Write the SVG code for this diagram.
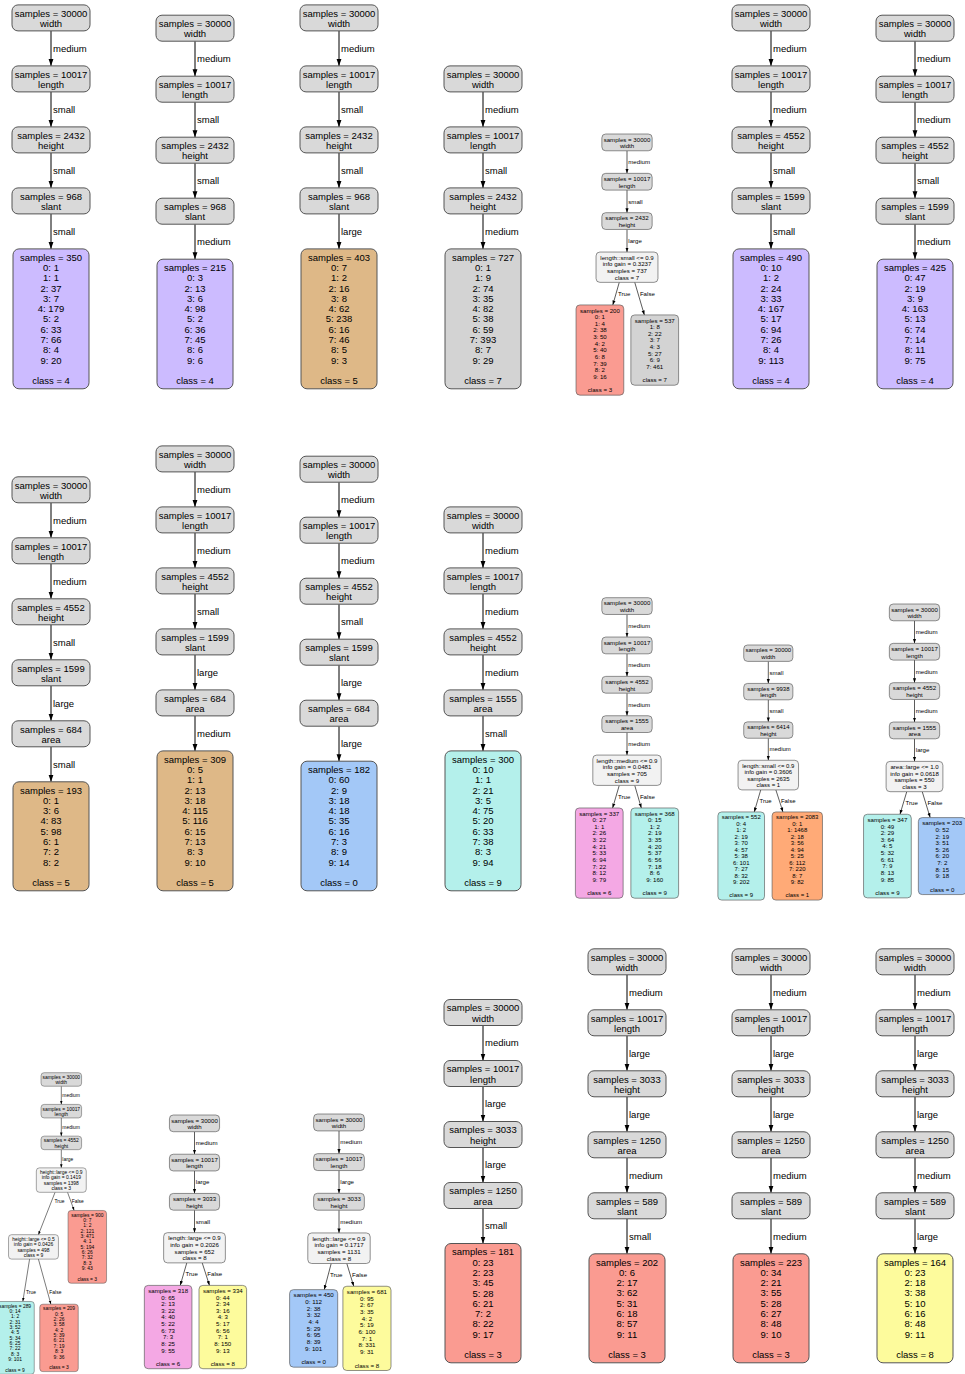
<svg xmlns="http://www.w3.org/2000/svg" width="965" height="1374" viewBox="0 0 965 1374">
<defs>
<style>
text{font-family:"Liberation Sans",Arial,Helvetica,sans-serif;font-size:9.5px;fill:#000}
.c{text-anchor:middle}
.el{text-anchor:start}
.n,.d,.k0,.k1,.k3,.k4,.k5,.k6,.k7,.k8,.k9{stroke:#555;stroke-width:1}
.n{fill:#d9d9d9}.d{fill:#f2f2f2}
.k0{fill:#a3c8f7}.k1{fill:#ffaa77}.k3{fill:#fa9b91}.k4{fill:#ccbbff}.k5{fill:#deb887}.k6{fill:#f4a8e4}.k7{fill:#d3d3d3}.k8{fill:#fdfb9c}.k9{fill:#b4f0eb}
.e{stroke:#000;stroke-width:1;fill:none;marker-end:url(#ah)}
</style>
<marker id="ah" viewBox="0 0 10 10" refX="10" refY="5" markerWidth="7" markerHeight="7" orient="auto" markerUnits="userSpaceOnUse"><path d="M0,1.5L10,5L0,8.5z" fill="#000"/></marker>
</defs>
<rect width="965" height="1374" fill="#fff"/>

<g id="connectors">
<g transform="translate(51,4.9)"><path class="e" d="M0,26V61"/><path class="e" d="M0,87V122"/><path class="e" d="M0,148V183"/><path class="e" d="M0,209V244"/><text class="el" x="2" y="46.9">medium</text><text class="el" x="2" y="107.9">small</text><text class="el" x="2" y="168.9">small</text><text class="el" x="2" y="229.9">small</text></g>
<g transform="translate(195,15.2)"><path class="e" d="M0,26V61"/><path class="e" d="M0,87V122"/><path class="e" d="M0,148V183"/><path class="e" d="M0,209V244"/><text class="el" x="2" y="46.9">medium</text><text class="el" x="2" y="107.9">small</text><text class="el" x="2" y="168.9">small</text><text class="el" x="2" y="229.9">medium</text></g>
<g transform="translate(339,4.9)"><path class="e" d="M0,26V61"/><path class="e" d="M0,87V122"/><path class="e" d="M0,148V183"/><path class="e" d="M0,209V244"/><text class="el" x="2" y="46.9">medium</text><text class="el" x="2" y="107.9">small</text><text class="el" x="2" y="168.9">small</text><text class="el" x="2" y="229.9">large</text></g>
<g transform="translate(483,65.9)"><path class="e" d="M0,26V61"/><path class="e" d="M0,87V122"/><path class="e" d="M0,148V183"/><text class="el" x="2" y="46.9">medium</text><text class="el" x="2" y="107.9">small</text><text class="el" x="2" y="168.9">medium</text></g>
<g transform="translate(627,134) scale(0.645)"><path class="e" d="M0,26V61"/><path class="e" d="M0,87V122"/><path class="e" d="M0,148V183"/><path class="e" d="M-12,230L-22,265"/><path class="e" d="M12,230L26.9,280.5"/><text class="el" x="2" y="46.9">medium</text><text class="el" x="2" y="107.9">small</text><text class="el" x="2" y="168.9">large</text><text class="el" x="-14" y="251">True</text><text class="el" x="20" y="251">False</text></g>
<g transform="translate(771,4.9)"><path class="e" d="M0,26V61"/><path class="e" d="M0,87V122"/><path class="e" d="M0,148V183"/><path class="e" d="M0,209V244"/><text class="el" x="2" y="46.9">medium</text><text class="el" x="2" y="107.9">medium</text><text class="el" x="2" y="168.9">small</text><text class="el" x="2" y="229.9">small</text></g>
<g transform="translate(915,15.2)"><path class="e" d="M0,26V61"/><path class="e" d="M0,87V122"/><path class="e" d="M0,148V183"/><path class="e" d="M0,209V244"/><text class="el" x="2" y="46.9">medium</text><text class="el" x="2" y="107.9">medium</text><text class="el" x="2" y="168.9">small</text><text class="el" x="2" y="229.9">medium</text></g>

<g transform="translate(51,476.8)"><path class="e" d="M0,26V61"/><path class="e" d="M0,87V122"/><path class="e" d="M0,148V183"/><path class="e" d="M0,209V244"/><path class="e" d="M0,270V305"/><text class="el" x="2" y="46.9">medium</text><text class="el" x="2" y="107.9">medium</text><text class="el" x="2" y="168.9">small</text><text class="el" x="2" y="229.9">large</text><text class="el" x="2" y="290.9">small</text></g>
<g transform="translate(195,445.9)"><path class="e" d="M0,26V61"/><path class="e" d="M0,87V122"/><path class="e" d="M0,148V183"/><path class="e" d="M0,209V244"/><path class="e" d="M0,270V305"/><text class="el" x="2" y="46.9">medium</text><text class="el" x="2" y="107.9">medium</text><text class="el" x="2" y="168.9">small</text><text class="el" x="2" y="229.9">large</text><text class="el" x="2" y="290.9">medium</text></g>
<g transform="translate(339,456.2)"><path class="e" d="M0,26V61"/><path class="e" d="M0,87V122"/><path class="e" d="M0,148V183"/><path class="e" d="M0,209V244"/><path class="e" d="M0,270V305"/><text class="el" x="2" y="46.9">medium</text><text class="el" x="2" y="107.9">medium</text><text class="el" x="2" y="168.9">small</text><text class="el" x="2" y="229.9">large</text><text class="el" x="2" y="290.9">large</text></g>
<g transform="translate(483,506.9)"><path class="e" d="M0,26V61"/><path class="e" d="M0,87V122"/><path class="e" d="M0,148V183"/><path class="e" d="M0,209V244"/><text class="el" x="2" y="46.9">medium</text><text class="el" x="2" y="107.9">medium</text><text class="el" x="2" y="168.9">medium</text><text class="el" x="2" y="229.9">small</text></g>
<g transform="translate(627,597.7) scale(0.645)"><path class="e" d="M0,26V61"/><path class="e" d="M0,87V122"/><path class="e" d="M0,148V183"/><path class="e" d="M0,209V244"/><path class="e" d="M-12,291L-22.3,326"/><path class="e" d="M12,291L22.2,326"/><text class="el" x="2" y="46.9">medium</text><text class="el" x="2" y="107.9">medium</text><text class="el" x="2" y="168.9">medium</text><text class="el" x="2" y="229.9">medium</text><text class="el" x="-14" y="312">True</text><text class="el" x="20" y="312">False</text></g>
<g transform="translate(768.3,645) scale(0.63)"><path class="e" d="M0,26V61"/><path class="e" d="M0,87V122"/><path class="e" d="M0,148V183"/><path class="e" d="M-12,230L-22.3,265"/><path class="e" d="M12,230L23.3,265"/><text class="el" x="2" y="46.9">small</text><text class="el" x="2" y="107.9">small</text><text class="el" x="2" y="168.9">medium</text><text class="el" x="-14" y="251">True</text><text class="el" x="20" y="251">False</text></g>
<g transform="translate(914.5,604) scale(0.645)"><path class="e" d="M0,26V61"/><path class="e" d="M0,87V122"/><path class="e" d="M0,148V183"/><path class="e" d="M0,209V244"/><path class="e" d="M-12,291L-22.5,326"/><path class="e" d="M12,291L24.3,331.2"/><text class="el" x="2" y="46.9">medium</text><text class="el" x="2" y="107.9">medium</text><text class="el" x="2" y="168.9">medium</text><text class="el" x="2" y="229.9">large</text><text class="el" x="-14" y="312">True</text><text class="el" x="20" y="312">False</text></g>

<g transform="translate(61.3,1072.7) scale(0.52)"><path class="e" d="M0,26V61"/><path class="e" d="M0,87V122"/><path class="e" d="M0,148V183"/><path class="e" d="M-12,230L-44,311.5"/><path class="e" d="M12,230L24.7,265"/><path class="e" d="M-61,358.5L-74,440"/><path class="e" d="M-44,358.5L-20,445.2"/><text class="el" x="2" y="46.9">medium</text><text class="el" x="2" y="107.9">medium</text><text class="el" x="2" y="168.9">large</text><text class="el" x="-13" y="251">True</text><text class="el" x="20" y="251">False</text><text class="el" x="-68" y="425">True</text><text class="el" x="-23" y="425">False</text></g>
<g transform="translate(194.5,1115) scale(0.643)"><path class="e" d="M0,26V61"/><path class="e" d="M0,87V122"/><path class="e" d="M0,148V183"/><path class="e" d="M-12,230L-22.2,265"/><path class="e" d="M12,230L23.3,265"/><text class="el" x="2" y="46.9">medium</text><text class="el" x="2" y="107.9">large</text><text class="el" x="2" y="168.9">small</text><text class="el" x="-14" y="251">True</text><text class="el" x="20" y="251">False</text></g>
<g transform="translate(339,1114) scale(0.65)"><path class="e" d="M0,26V61"/><path class="e" d="M0,87V122"/><path class="e" d="M0,148V183"/><path class="e" d="M-12,230L-22.7,270.2"/><path class="e" d="M12,230L22.7,265"/><text class="el" x="2" y="46.9">medium</text><text class="el" x="2" y="107.9">large</text><text class="el" x="2" y="168.9">medium</text><text class="el" x="-14" y="251">True</text><text class="el" x="20" y="251">False</text></g>
<g transform="translate(483,999.5)"><path class="e" d="M0,26V61"/><path class="e" d="M0,87V122"/><path class="e" d="M0,148V183"/><path class="e" d="M0,209V244"/><text class="el" x="2" y="46.9">medium</text><text class="el" x="2" y="107.9">large</text><text class="el" x="2" y="168.9">large</text><text class="el" x="2" y="229.9">small</text></g>
<g transform="translate(627,948.8)"><path class="e" d="M0,26V61"/><path class="e" d="M0,87V122"/><path class="e" d="M0,148V183"/><path class="e" d="M0,209V244"/><path class="e" d="M0,270V305"/><text class="el" x="2" y="46.9">medium</text><text class="el" x="2" y="107.9">large</text><text class="el" x="2" y="168.9">large</text><text class="el" x="2" y="229.9">medium</text><text class="el" x="2" y="290.9">small</text></g>
<g transform="translate(771,948.8)"><path class="e" d="M0,26V61"/><path class="e" d="M0,87V122"/><path class="e" d="M0,148V183"/><path class="e" d="M0,209V244"/><path class="e" d="M0,270V305"/><text class="el" x="2" y="46.9">medium</text><text class="el" x="2" y="107.9">large</text><text class="el" x="2" y="168.9">large</text><text class="el" x="2" y="229.9">medium</text><text class="el" x="2" y="290.9">medium</text></g>
<g transform="translate(915,948.8)"><path class="e" d="M0,26V61"/><path class="e" d="M0,87V122"/><path class="e" d="M0,148V183"/><path class="e" d="M0,209V244"/><path class="e" d="M0,270V305"/><text class="el" x="2" y="46.9">medium</text><text class="el" x="2" y="107.9">large</text><text class="el" x="2" y="168.9">large</text><text class="el" x="2" y="229.9">medium</text><text class="el" x="2" y="290.9">large</text></g>
</g>

<!-- Row 1 -->
<g id="tree-r1c1" transform="translate(51,4.9)">
<g id="r1c1-n0"><rect class="n" x="-39" y="0" width="78" height="26" rx="6"/><text class="c"><tspan x="0" y="11.8">samples = 30000</tspan><tspan x="0" y="22.1">width</tspan></text></g>
<g id="r1c1-n1"><rect class="n" x="-39" y="61" width="78" height="26" rx="6"/><text class="c"><tspan x="0" y="72.8">samples = 10017</tspan><tspan x="0" y="83.1">length</tspan></text></g>
<g id="r1c1-n2"><rect class="n" x="-39" y="122" width="78" height="26" rx="6"/><text class="c"><tspan x="0" y="133.8">samples = 2432</tspan><tspan x="0" y="144.1">height</tspan></text></g>
<g id="r1c1-n3"><rect class="n" x="-39" y="183" width="78" height="26" rx="6"/><text class="c"><tspan x="0" y="194.8">samples = 968</tspan><tspan x="0" y="205.1">slant</tspan></text></g>
<g id="r1c1-leaf"><rect class="k4" x="-38" y="244" width="76" height="139.9" rx="6"/><text class="c"><tspan x="0" y="255.8">samples = 350</tspan><tspan x="0" y="266.1">0: 1</tspan><tspan x="0" y="276.4">1: 1</tspan><tspan x="0" y="286.7">2: 37</tspan><tspan x="0" y="297">3: 7</tspan><tspan x="0" y="307.3">4: 179</tspan><tspan x="0" y="317.6">5: 2</tspan><tspan x="0" y="327.9">6: 33</tspan><tspan x="0" y="338.2">7: 66</tspan><tspan x="0" y="348.5">8: 4</tspan><tspan x="0" y="358.8">9: 20</tspan><tspan x="0" y="379.4">class = 4</tspan></text></g>
</g>
<g id="tree-r1c2" transform="translate(195,15.2)">
<g id="r1c2-n0"><rect class="n" x="-39" y="0" width="78" height="26" rx="6"/><text class="c"><tspan x="0" y="11.8">samples = 30000</tspan><tspan x="0" y="22.1">width</tspan></text></g>
<g id="r1c2-n1"><rect class="n" x="-39" y="61" width="78" height="26" rx="6"/><text class="c"><tspan x="0" y="72.8">samples = 10017</tspan><tspan x="0" y="83.1">length</tspan></text></g>
<g id="r1c2-n2"><rect class="n" x="-39" y="122" width="78" height="26" rx="6"/><text class="c"><tspan x="0" y="133.8">samples = 2432</tspan><tspan x="0" y="144.1">height</tspan></text></g>
<g id="r1c2-n3"><rect class="n" x="-39" y="183" width="78" height="26" rx="6"/><text class="c"><tspan x="0" y="194.8">samples = 968</tspan><tspan x="0" y="205.1">slant</tspan></text></g>
<g id="r1c2-leaf"><rect class="k4" x="-38" y="244" width="76" height="129.6" rx="6"/><text class="c"><tspan x="0" y="255.8">samples = 215</tspan><tspan x="0" y="266.1">0: 3</tspan><tspan x="0" y="276.4">2: 13</tspan><tspan x="0" y="286.7">3: 6</tspan><tspan x="0" y="297">4: 98</tspan><tspan x="0" y="307.3">5: 2</tspan><tspan x="0" y="317.6">6: 36</tspan><tspan x="0" y="327.9">7: 45</tspan><tspan x="0" y="338.2">8: 6</tspan><tspan x="0" y="348.5">9: 6</tspan><tspan x="0" y="369.1">class = 4</tspan></text></g>
</g>
<g id="tree-r1c3" transform="translate(339,4.9)">
<g id="r1c3-n0"><rect class="n" x="-39" y="0" width="78" height="26" rx="6"/><text class="c"><tspan x="0" y="11.8">samples = 30000</tspan><tspan x="0" y="22.1">width</tspan></text></g>
<g id="r1c3-n1"><rect class="n" x="-39" y="61" width="78" height="26" rx="6"/><text class="c"><tspan x="0" y="72.8">samples = 10017</tspan><tspan x="0" y="83.1">length</tspan></text></g>
<g id="r1c3-n2"><rect class="n" x="-39" y="122" width="78" height="26" rx="6"/><text class="c"><tspan x="0" y="133.8">samples = 2432</tspan><tspan x="0" y="144.1">height</tspan></text></g>
<g id="r1c3-n3"><rect class="n" x="-39" y="183" width="78" height="26" rx="6"/><text class="c"><tspan x="0" y="194.8">samples = 968</tspan><tspan x="0" y="205.1">slant</tspan></text></g>
<g id="r1c3-leaf"><rect class="k5" x="-38" y="244" width="76" height="139.9" rx="6"/><text class="c"><tspan x="0" y="255.8">samples = 403</tspan><tspan x="0" y="266.1">0: 7</tspan><tspan x="0" y="276.4">1: 2</tspan><tspan x="0" y="286.7">2: 16</tspan><tspan x="0" y="297">3: 8</tspan><tspan x="0" y="307.3">4: 62</tspan><tspan x="0" y="317.6">5: 238</tspan><tspan x="0" y="327.9">6: 16</tspan><tspan x="0" y="338.2">7: 46</tspan><tspan x="0" y="348.5">8: 5</tspan><tspan x="0" y="358.8">9: 3</tspan><tspan x="0" y="379.4">class = 5</tspan></text></g>
</g>
<g id="tree-r1c4" transform="translate(483,65.9)">
<g id="r1c4-n0"><rect class="n" x="-39" y="0" width="78" height="26" rx="6"/><text class="c"><tspan x="0" y="11.8">samples = 30000</tspan><tspan x="0" y="22.1">width</tspan></text></g>
<g id="r1c4-n1"><rect class="n" x="-39" y="61" width="78" height="26" rx="6"/><text class="c"><tspan x="0" y="72.8">samples = 10017</tspan><tspan x="0" y="83.1">length</tspan></text></g>
<g id="r1c4-n2"><rect class="n" x="-39" y="122" width="78" height="26" rx="6"/><text class="c"><tspan x="0" y="133.8">samples = 2432</tspan><tspan x="0" y="144.1">height</tspan></text></g>
<g id="r1c4-leaf"><rect class="k7" x="-38" y="183" width="76" height="139.9" rx="6"/><text class="c"><tspan x="0" y="194.8">samples = 727</tspan><tspan x="0" y="205.1">0: 1</tspan><tspan x="0" y="215.4">1: 9</tspan><tspan x="0" y="225.7">2: 74</tspan><tspan x="0" y="236">3: 35</tspan><tspan x="0" y="246.3">4: 82</tspan><tspan x="0" y="256.6">5: 38</tspan><tspan x="0" y="266.9">6: 59</tspan><tspan x="0" y="277.2">7: 393</tspan><tspan x="0" y="287.5">8: 7</tspan><tspan x="0" y="297.8">9: 29</tspan><tspan x="0" y="318.4">class = 7</tspan></text></g>
</g>
<g id="tree-r1c5" transform="translate(627,134) scale(0.645)">
<g id="r1c5-n0"><rect class="n" x="-39" y="0" width="78" height="26" rx="6"/><text class="c"><tspan x="0" y="11.8">samples = 30000</tspan><tspan x="0" y="22.1">width</tspan></text></g>
<g id="r1c5-n1"><rect class="n" x="-39" y="61" width="78" height="26" rx="6"/><text class="c"><tspan x="0" y="72.8">samples = 10017</tspan><tspan x="0" y="83.1">length</tspan></text></g>
<g id="r1c5-n2"><rect class="n" x="-39" y="122" width="78" height="26" rx="6"/><text class="c"><tspan x="0" y="133.8">samples = 2432</tspan><tspan x="0" y="144.1">height</tspan></text></g>
<g id="r1c5-split"><rect class="d" x="-48" y="183" width="96" height="47" rx="6"/><text class="c"><tspan x="0" y="194.8">length::small &lt;= 0.9</tspan><tspan x="0" y="205.1">info gain = 0.3237</tspan><tspan x="0" y="215.4">samples = 737</tspan><tspan x="0" y="225.7">class = 7</tspan></text></g>
<g id="r1c5-leafT"><rect class="k3" x="-79" y="265" width="74" height="139.9" rx="6"/><text class="c"><tspan x="-42" y="276.8">samples = 200</tspan><tspan x="-42" y="287.1">0: 1</tspan><tspan x="-42" y="297.4">1: 4</tspan><tspan x="-42" y="307.7">2: 38</tspan><tspan x="-42" y="318">3: 50</tspan><tspan x="-42" y="328.3">4: 2</tspan><tspan x="-42" y="338.6">5: 40</tspan><tspan x="-42" y="348.9">6: 8</tspan><tspan x="-42" y="359.2">7: 39</tspan><tspan x="-42" y="369.5">8: 2</tspan><tspan x="-42" y="379.8">9: 16</tspan><tspan x="-42" y="400.4">class = 3</tspan></text></g>
<g id="r1c5-leafF"><rect class="k7" x="6" y="280.5" width="74" height="109" rx="6"/><text class="c"><tspan x="43" y="292.3">samples = 537</tspan><tspan x="43" y="302.6">1: 8</tspan><tspan x="43" y="312.9">2: 22</tspan><tspan x="43" y="323.2">3: 7</tspan><tspan x="43" y="333.5">4: 3</tspan><tspan x="43" y="343.8">5: 27</tspan><tspan x="43" y="354.1">6: 9</tspan><tspan x="43" y="364.4">7: 461</tspan><tspan x="43" y="385">class = 7</tspan></text></g>
</g>
<g id="tree-r1c6" transform="translate(771,4.9)">
<g id="r1c6-n0"><rect class="n" x="-39" y="0" width="78" height="26" rx="6"/><text class="c"><tspan x="0" y="11.8">samples = 30000</tspan><tspan x="0" y="22.1">width</tspan></text></g>
<g id="r1c6-n1"><rect class="n" x="-39" y="61" width="78" height="26" rx="6"/><text class="c"><tspan x="0" y="72.8">samples = 10017</tspan><tspan x="0" y="83.1">length</tspan></text></g>
<g id="r1c6-n2"><rect class="n" x="-39" y="122" width="78" height="26" rx="6"/><text class="c"><tspan x="0" y="133.8">samples = 4552</tspan><tspan x="0" y="144.1">height</tspan></text></g>
<g id="r1c6-n3"><rect class="n" x="-39" y="183" width="78" height="26" rx="6"/><text class="c"><tspan x="0" y="194.8">samples = 1599</tspan><tspan x="0" y="205.1">slant</tspan></text></g>
<g id="r1c6-leaf"><rect class="k4" x="-38" y="244" width="76" height="139.9" rx="6"/><text class="c"><tspan x="0" y="255.8">samples = 490</tspan><tspan x="0" y="266.1">0: 10</tspan><tspan x="0" y="276.4">1: 2</tspan><tspan x="0" y="286.7">2: 24</tspan><tspan x="0" y="297">3: 33</tspan><tspan x="0" y="307.3">4: 167</tspan><tspan x="0" y="317.6">5: 17</tspan><tspan x="0" y="327.9">6: 94</tspan><tspan x="0" y="338.2">7: 26</tspan><tspan x="0" y="348.5">8: 4</tspan><tspan x="0" y="358.8">9: 113</tspan><tspan x="0" y="379.4">class = 4</tspan></text></g>
</g>
<g id="tree-r1c7" transform="translate(915,15.2)">
<g id="r1c7-n0"><rect class="n" x="-39" y="0" width="78" height="26" rx="6"/><text class="c"><tspan x="0" y="11.8">samples = 30000</tspan><tspan x="0" y="22.1">width</tspan></text></g>
<g id="r1c7-n1"><rect class="n" x="-39" y="61" width="78" height="26" rx="6"/><text class="c"><tspan x="0" y="72.8">samples = 10017</tspan><tspan x="0" y="83.1">length</tspan></text></g>
<g id="r1c7-n2"><rect class="n" x="-39" y="122" width="78" height="26" rx="6"/><text class="c"><tspan x="0" y="133.8">samples = 4552</tspan><tspan x="0" y="144.1">height</tspan></text></g>
<g id="r1c7-n3"><rect class="n" x="-39" y="183" width="78" height="26" rx="6"/><text class="c"><tspan x="0" y="194.8">samples = 1599</tspan><tspan x="0" y="205.1">slant</tspan></text></g>
<g id="r1c7-leaf"><rect class="k4" x="-38" y="244" width="76" height="129.6" rx="6"/><text class="c"><tspan x="0" y="255.8">samples = 425</tspan><tspan x="0" y="266.1">0: 47</tspan><tspan x="0" y="276.4">2: 19</tspan><tspan x="0" y="286.7">3: 9</tspan><tspan x="0" y="297">4: 163</tspan><tspan x="0" y="307.3">5: 13</tspan><tspan x="0" y="317.6">6: 74</tspan><tspan x="0" y="327.9">7: 14</tspan><tspan x="0" y="338.2">8: 11</tspan><tspan x="0" y="348.5">9: 75</tspan><tspan x="0" y="369.1">class = 4</tspan></text></g>
</g>

<!-- Row 2 -->
<g id="tree-r2c1" transform="translate(51,476.8)">
<g id="r2c1-n0"><rect class="n" x="-39" y="0" width="78" height="26" rx="6"/><text class="c"><tspan x="0" y="11.8">samples = 30000</tspan><tspan x="0" y="22.1">width</tspan></text></g>
<g id="r2c1-n1"><rect class="n" x="-39" y="61" width="78" height="26" rx="6"/><text class="c"><tspan x="0" y="72.8">samples = 10017</tspan><tspan x="0" y="83.1">length</tspan></text></g>
<g id="r2c1-n2"><rect class="n" x="-39" y="122" width="78" height="26" rx="6"/><text class="c"><tspan x="0" y="133.8">samples = 4552</tspan><tspan x="0" y="144.1">height</tspan></text></g>
<g id="r2c1-n3"><rect class="n" x="-39" y="183" width="78" height="26" rx="6"/><text class="c"><tspan x="0" y="194.8">samples = 1599</tspan><tspan x="0" y="205.1">slant</tspan></text></g>
<g id="r2c1-n4"><rect class="n" x="-39" y="244" width="78" height="26" rx="6"/><text class="c"><tspan x="0" y="255.8">samples = 684</tspan><tspan x="0" y="266.1">area</tspan></text></g>
<g id="r2c1-leaf"><rect class="k5" x="-38" y="305" width="76" height="109" rx="6"/><text class="c"><tspan x="0" y="316.8">samples = 193</tspan><tspan x="0" y="327.1">0: 1</tspan><tspan x="0" y="337.4">3: 6</tspan><tspan x="0" y="347.7">4: 83</tspan><tspan x="0" y="358">5: 98</tspan><tspan x="0" y="368.3">6: 1</tspan><tspan x="0" y="378.6">7: 2</tspan><tspan x="0" y="388.9">8: 2</tspan><tspan x="0" y="409.5">class = 5</tspan></text></g>
</g>
<g id="tree-r2c2" transform="translate(195,445.9)">
<g id="r2c2-n0"><rect class="n" x="-39" y="0" width="78" height="26" rx="6"/><text class="c"><tspan x="0" y="11.8">samples = 30000</tspan><tspan x="0" y="22.1">width</tspan></text></g>
<g id="r2c2-n1"><rect class="n" x="-39" y="61" width="78" height="26" rx="6"/><text class="c"><tspan x="0" y="72.8">samples = 10017</tspan><tspan x="0" y="83.1">length</tspan></text></g>
<g id="r2c2-n2"><rect class="n" x="-39" y="122" width="78" height="26" rx="6"/><text class="c"><tspan x="0" y="133.8">samples = 4552</tspan><tspan x="0" y="144.1">height</tspan></text></g>
<g id="r2c2-n3"><rect class="n" x="-39" y="183" width="78" height="26" rx="6"/><text class="c"><tspan x="0" y="194.8">samples = 1599</tspan><tspan x="0" y="205.1">slant</tspan></text></g>
<g id="r2c2-n4"><rect class="n" x="-39" y="244" width="78" height="26" rx="6"/><text class="c"><tspan x="0" y="255.8">samples = 684</tspan><tspan x="0" y="266.1">area</tspan></text></g>
<g id="r2c2-leaf"><rect class="k5" x="-38" y="305" width="76" height="139.9" rx="6"/><text class="c"><tspan x="0" y="316.8">samples = 309</tspan><tspan x="0" y="327.1">0: 5</tspan><tspan x="0" y="337.4">1: 1</tspan><tspan x="0" y="347.7">2: 13</tspan><tspan x="0" y="358">3: 18</tspan><tspan x="0" y="368.3">4: 115</tspan><tspan x="0" y="378.6">5: 116</tspan><tspan x="0" y="388.9">6: 15</tspan><tspan x="0" y="399.2">7: 13</tspan><tspan x="0" y="409.5">8: 3</tspan><tspan x="0" y="419.8">9: 10</tspan><tspan x="0" y="440.4">class = 5</tspan></text></g>
</g>
<g id="tree-r2c3" transform="translate(339,456.2)">
<g id="r2c3-n0"><rect class="n" x="-39" y="0" width="78" height="26" rx="6"/><text class="c"><tspan x="0" y="11.8">samples = 30000</tspan><tspan x="0" y="22.1">width</tspan></text></g>
<g id="r2c3-n1"><rect class="n" x="-39" y="61" width="78" height="26" rx="6"/><text class="c"><tspan x="0" y="72.8">samples = 10017</tspan><tspan x="0" y="83.1">length</tspan></text></g>
<g id="r2c3-n2"><rect class="n" x="-39" y="122" width="78" height="26" rx="6"/><text class="c"><tspan x="0" y="133.8">samples = 4552</tspan><tspan x="0" y="144.1">height</tspan></text></g>
<g id="r2c3-n3"><rect class="n" x="-39" y="183" width="78" height="26" rx="6"/><text class="c"><tspan x="0" y="194.8">samples = 1599</tspan><tspan x="0" y="205.1">slant</tspan></text></g>
<g id="r2c3-n4"><rect class="n" x="-39" y="244" width="78" height="26" rx="6"/><text class="c"><tspan x="0" y="255.8">samples = 684</tspan><tspan x="0" y="266.1">area</tspan></text></g>
<g id="r2c3-leaf"><rect class="k0" x="-38" y="305" width="76" height="129.6" rx="6"/><text class="c"><tspan x="0" y="316.8">samples = 182</tspan><tspan x="0" y="327.1">0: 60</tspan><tspan x="0" y="337.4">2: 9</tspan><tspan x="0" y="347.7">3: 18</tspan><tspan x="0" y="358">4: 18</tspan><tspan x="0" y="368.3">5: 35</tspan><tspan x="0" y="378.6">6: 16</tspan><tspan x="0" y="388.9">7: 3</tspan><tspan x="0" y="399.2">8: 9</tspan><tspan x="0" y="409.5">9: 14</tspan><tspan x="0" y="430.1">class = 0</tspan></text></g>
</g>
<g id="tree-r2c4" transform="translate(483,506.9)">
<g id="r2c4-n0"><rect class="n" x="-39" y="0" width="78" height="26" rx="6"/><text class="c"><tspan x="0" y="11.8">samples = 30000</tspan><tspan x="0" y="22.1">width</tspan></text></g>
<g id="r2c4-n1"><rect class="n" x="-39" y="61" width="78" height="26" rx="6"/><text class="c"><tspan x="0" y="72.8">samples = 10017</tspan><tspan x="0" y="83.1">length</tspan></text></g>
<g id="r2c4-n2"><rect class="n" x="-39" y="122" width="78" height="26" rx="6"/><text class="c"><tspan x="0" y="133.8">samples = 4552</tspan><tspan x="0" y="144.1">height</tspan></text></g>
<g id="r2c4-n3"><rect class="n" x="-39" y="183" width="78" height="26" rx="6"/><text class="c"><tspan x="0" y="194.8">samples = 1555</tspan><tspan x="0" y="205.1">area</tspan></text></g>
<g id="r2c4-leaf"><rect class="k9" x="-38" y="244" width="76" height="139.9" rx="6"/><text class="c"><tspan x="0" y="255.8">samples = 300</tspan><tspan x="0" y="266.1">0: 10</tspan><tspan x="0" y="276.4">1: 1</tspan><tspan x="0" y="286.7">2: 21</tspan><tspan x="0" y="297">3: 5</tspan><tspan x="0" y="307.3">4: 75</tspan><tspan x="0" y="317.6">5: 20</tspan><tspan x="0" y="327.9">6: 33</tspan><tspan x="0" y="338.2">7: 38</tspan><tspan x="0" y="348.5">8: 3</tspan><tspan x="0" y="358.8">9: 94</tspan><tspan x="0" y="379.4">class = 9</tspan></text></g>
</g>
<g id="tree-r2c5" transform="translate(627,597.7) scale(0.645)">
<g id="r2c5-n0"><rect class="n" x="-39" y="0" width="78" height="26" rx="6"/><text class="c"><tspan x="0" y="11.8">samples = 30000</tspan><tspan x="0" y="22.1">width</tspan></text></g>
<g id="r2c5-n1"><rect class="n" x="-39" y="61" width="78" height="26" rx="6"/><text class="c"><tspan x="0" y="72.8">samples = 10017</tspan><tspan x="0" y="83.1">length</tspan></text></g>
<g id="r2c5-n2"><rect class="n" x="-39" y="122" width="78" height="26" rx="6"/><text class="c"><tspan x="0" y="133.8">samples = 4552</tspan><tspan x="0" y="144.1">height</tspan></text></g>
<g id="r2c5-n3"><rect class="n" x="-39" y="183" width="78" height="26" rx="6"/><text class="c"><tspan x="0" y="194.8">samples = 1555</tspan><tspan x="0" y="205.1">area</tspan></text></g>
<g id="r2c5-split"><rect class="d" x="-53" y="244" width="106" height="47" rx="6"/><text class="c"><tspan x="0" y="255.8">length::medium &lt;= 0.9</tspan><tspan x="0" y="266.1">info gain = 0.0481</tspan><tspan x="0" y="276.4">samples = 705</tspan><tspan x="0" y="286.7">class = 9</tspan></text></g>
<g id="r2c5-leafT"><rect class="k6" x="-80" y="326" width="74" height="139.9" rx="6"/><text class="c"><tspan x="-43" y="337.8">samples = 337</tspan><tspan x="-43" y="348.1">0: 27</tspan><tspan x="-43" y="358.4">1: 1</tspan><tspan x="-43" y="368.7">2: 26</tspan><tspan x="-43" y="379">3: 22</tspan><tspan x="-43" y="389.3">4: 21</tspan><tspan x="-43" y="399.6">5: 33</tspan><tspan x="-43" y="409.9">6: 94</tspan><tspan x="-43" y="420.2">7: 22</tspan><tspan x="-43" y="430.5">8: 12</tspan><tspan x="-43" y="440.8">9: 79</tspan><tspan x="-43" y="461.4">class = 6</tspan></text></g>
<g id="r2c5-leafF"><rect class="k9" x="6" y="326" width="74" height="139.9" rx="6"/><text class="c"><tspan x="43" y="337.8">samples = 368</tspan><tspan x="43" y="348.1">0: 15</tspan><tspan x="43" y="358.4">1: 2</tspan><tspan x="43" y="368.7">2: 19</tspan><tspan x="43" y="379">3: 35</tspan><tspan x="43" y="389.3">4: 20</tspan><tspan x="43" y="399.6">5: 37</tspan><tspan x="43" y="409.9">6: 56</tspan><tspan x="43" y="420.2">7: 18</tspan><tspan x="43" y="430.5">8: 6</tspan><tspan x="43" y="440.8">9: 160</tspan><tspan x="43" y="461.4">class = 9</tspan></text></g>
</g>
<g id="tree-r2c6" transform="translate(768.3,645) scale(0.63)">
<g id="r2c6-n0"><rect class="n" x="-39" y="0" width="78" height="26" rx="6"/><text class="c"><tspan x="0" y="11.8">samples = 30000</tspan><tspan x="0" y="22.1">width</tspan></text></g>
<g id="r2c6-n1"><rect class="n" x="-39" y="61" width="78" height="26" rx="6"/><text class="c"><tspan x="0" y="72.8">samples = 9938</tspan><tspan x="0" y="83.1">length</tspan></text></g>
<g id="r2c6-n2"><rect class="n" x="-39" y="122" width="78" height="26" rx="6"/><text class="c"><tspan x="0" y="133.8">samples = 6414</tspan><tspan x="0" y="144.1">height</tspan></text></g>
<g id="r2c6-split"><rect class="d" x="-48" y="183" width="96" height="47" rx="6"/><text class="c"><tspan x="0" y="194.8">length::small &lt;= 0.9</tspan><tspan x="0" y="205.1">info gain = 0.3606</tspan><tspan x="0" y="215.4">samples = 2635</tspan><tspan x="0" y="225.7">class = 1</tspan></text></g>
<g id="r2c6-leafT"><rect class="k9" x="-80" y="265" width="74" height="139.9" rx="6"/><text class="c"><tspan x="-43" y="276.8">samples = 552</tspan><tspan x="-43" y="287.1">0: 4</tspan><tspan x="-43" y="297.4">1: 2</tspan><tspan x="-43" y="307.7">2: 19</tspan><tspan x="-43" y="318">3: 70</tspan><tspan x="-43" y="328.3">4: 57</tspan><tspan x="-43" y="338.6">5: 38</tspan><tspan x="-43" y="348.9">6: 101</tspan><tspan x="-43" y="359.2">7: 27</tspan><tspan x="-43" y="369.5">8: 32</tspan><tspan x="-43" y="379.8">9: 202</tspan><tspan x="-43" y="400.4">class = 9</tspan></text></g>
<g id="r2c6-leafF"><rect class="k1" x="6" y="265" width="80" height="139.9" rx="6"/><text class="c"><tspan x="46" y="276.8">samples = 2083</tspan><tspan x="46" y="287.1">0: 1</tspan><tspan x="46" y="297.4">1: 1468</tspan><tspan x="46" y="307.7">2: 18</tspan><tspan x="46" y="318">3: 56</tspan><tspan x="46" y="328.3">4: 94</tspan><tspan x="46" y="338.6">5: 25</tspan><tspan x="46" y="348.9">6: 112</tspan><tspan x="46" y="359.2">7: 220</tspan><tspan x="46" y="369.5">8: 7</tspan><tspan x="46" y="379.8">9: 82</tspan><tspan x="46" y="400.4">class = 1</tspan></text></g>
</g>
<g id="tree-r2c7" transform="translate(914.5,604) scale(0.645)">
<g id="r2c7-n0"><rect class="n" x="-39" y="0" width="78" height="26" rx="6"/><text class="c"><tspan x="0" y="11.8">samples = 30000</tspan><tspan x="0" y="22.1">width</tspan></text></g>
<g id="r2c7-n1"><rect class="n" x="-39" y="61" width="78" height="26" rx="6"/><text class="c"><tspan x="0" y="72.8">samples = 10017</tspan><tspan x="0" y="83.1">length</tspan></text></g>
<g id="r2c7-n2"><rect class="n" x="-39" y="122" width="78" height="26" rx="6"/><text class="c"><tspan x="0" y="133.8">samples = 4552</tspan><tspan x="0" y="144.1">height</tspan></text></g>
<g id="r2c7-n3"><rect class="n" x="-39" y="183" width="78" height="26" rx="6"/><text class="c"><tspan x="0" y="194.8">samples = 1555</tspan><tspan x="0" y="205.1">area</tspan></text></g>
<g id="r2c7-split"><rect class="d" x="-44" y="244" width="88" height="47" rx="6"/><text class="c"><tspan x="0" y="255.8">area::large &lt;= 1.0</tspan><tspan x="0" y="266.1">info gain = 0.0618</tspan><tspan x="0" y="276.4">samples = 550</tspan><tspan x="0" y="286.7">class = 3</tspan></text></g>
<g id="r2c7-leafT"><rect class="k9" x="-79" y="326" width="74" height="129.6" rx="6"/><text class="c"><tspan x="-42" y="337.8">samples = 347</tspan><tspan x="-42" y="348.1">0: 49</tspan><tspan x="-42" y="358.4">2: 29</tspan><tspan x="-42" y="368.7">3: 64</tspan><tspan x="-42" y="379">4: 5</tspan><tspan x="-42" y="389.3">5: 32</tspan><tspan x="-42" y="399.6">6: 61</tspan><tspan x="-42" y="409.9">7: 9</tspan><tspan x="-42" y="420.2">8: 13</tspan><tspan x="-42" y="430.5">9: 85</tspan><tspan x="-42" y="451.1">class = 9</tspan></text></g>
<g id="r2c7-leafF"><rect class="k0" x="6" y="331.2" width="74" height="119.3" rx="6"/><text class="c"><tspan x="43" y="343">samples = 203</tspan><tspan x="43" y="353.3">0: 52</tspan><tspan x="43" y="363.6">2: 19</tspan><tspan x="43" y="373.9">3: 51</tspan><tspan x="43" y="384.2">5: 26</tspan><tspan x="43" y="394.5">6: 20</tspan><tspan x="43" y="404.8">7: 2</tspan><tspan x="43" y="415.1">8: 15</tspan><tspan x="43" y="425.4">9: 18</tspan><tspan x="43" y="446">class = 0</tspan></text></g>
</g>

<!-- Row 3 -->
<g id="tree-r3c1" transform="translate(61.3,1072.7) scale(0.52)">
<g id="r3c1-n0"><rect class="n" x="-39" y="0" width="78" height="26" rx="6"/><text class="c"><tspan x="0" y="11.8">samples = 30000</tspan><tspan x="0" y="22.1">width</tspan></text></g>
<g id="r3c1-n1"><rect class="n" x="-39" y="61" width="78" height="26" rx="6"/><text class="c"><tspan x="0" y="72.8">samples = 10017</tspan><tspan x="0" y="83.1">length</tspan></text></g>
<g id="r3c1-n2"><rect class="n" x="-39" y="122" width="78" height="26" rx="6"/><text class="c"><tspan x="0" y="133.8">samples = 4552</tspan><tspan x="0" y="144.1">height</tspan></text></g>
<g id="r3c1-split1"><rect class="d" x="-48" y="183" width="96" height="47" rx="6"/><text class="c"><tspan x="0" y="194.8">height::large &lt;= 0.9</tspan><tspan x="0" y="205.1">info gain = 0.1419</tspan><tspan x="0" y="215.4">samples = 1398</tspan><tspan x="0" y="225.7">class = 3</tspan></text></g>
<g id="r3c1-leaf900"><rect class="k3" x="13" y="265" width="74" height="139.9" rx="6"/><text class="c"><tspan x="50" y="276.8">samples = 900</tspan><tspan x="50" y="287.1">0: 7</tspan><tspan x="50" y="297.4">1: 2</tspan><tspan x="50" y="307.7">2: 121</tspan><tspan x="50" y="318">3: 471</tspan><tspan x="50" y="328.3">4: 1</tspan><tspan x="50" y="338.6">5: 194</tspan><tspan x="50" y="348.9">6: 26</tspan><tspan x="50" y="359.2">7: 32</tspan><tspan x="50" y="369.5">8: 3</tspan><tspan x="50" y="379.8">9: 43</tspan><tspan x="50" y="400.4">class = 3</tspan></text></g>
<g id="r3c1-split2"><rect class="d" x="-101.5" y="311.5" width="96" height="47" rx="6"/><text class="c"><tspan x="-53.5" y="323.3">height::large &lt;= 0.5</tspan><tspan x="-53.5" y="333.6">info gain = 0.0426</tspan><tspan x="-53.5" y="343.9">samples = 498</tspan><tspan x="-53.5" y="354.2">class = 9</tspan></text></g>
<g id="r3c1-leaf289"><rect class="k9" x="-126" y="440" width="74" height="139.9" rx="6"/><text class="c"><tspan x="-89" y="451.8">samples = 289</tspan><tspan x="-89" y="462.1">0: 14</tspan><tspan x="-89" y="472.4">1: 2</tspan><tspan x="-89" y="482.7">2: 31</tspan><tspan x="-89" y="493">3: 52</tspan><tspan x="-89" y="503.3">4: 5</tspan><tspan x="-89" y="513.6">5: 34</tspan><tspan x="-89" y="523.9">6: 25</tspan><tspan x="-89" y="534.2">7: 22</tspan><tspan x="-89" y="544.5">8: 3</tspan><tspan x="-89" y="554.8">9: 101</tspan><tspan x="-89" y="575.4">class = 9</tspan></text></g>
<g id="r3c1-leaf209"><rect class="k3" x="-41.4" y="445.2" width="74" height="129.6" rx="6"/><text class="c"><tspan x="-4.4" y="457">samples = 209</tspan><tspan x="-4.4" y="467.3">0: 5</tspan><tspan x="-4.4" y="477.6">2: 26</tspan><tspan x="-4.4" y="487.9">3: 58</tspan><tspan x="-4.4" y="498.2">4: 2</tspan><tspan x="-4.4" y="508.5">5: 39</tspan><tspan x="-4.4" y="518.8">6: 21</tspan><tspan x="-4.4" y="529.1">7: 19</tspan><tspan x="-4.4" y="539.4">8: 3</tspan><tspan x="-4.4" y="549.7">9: 36</tspan><tspan x="-4.4" y="570.3">class = 3</tspan></text></g>
</g>
<g id="tree-r3c2" transform="translate(194.5,1115) scale(0.643)">
<g id="r3c2-n0"><rect class="n" x="-39" y="0" width="78" height="26" rx="6"/><text class="c"><tspan x="0" y="11.8">samples = 30000</tspan><tspan x="0" y="22.1">width</tspan></text></g>
<g id="r3c2-n1"><rect class="n" x="-39" y="61" width="78" height="26" rx="6"/><text class="c"><tspan x="0" y="72.8">samples = 10017</tspan><tspan x="0" y="83.1">length</tspan></text></g>
<g id="r3c2-n2"><rect class="n" x="-39" y="122" width="78" height="26" rx="6"/><text class="c"><tspan x="0" y="133.8">samples = 3033</tspan><tspan x="0" y="144.1">height</tspan></text></g>
<g id="r3c2-split"><rect class="d" x="-48" y="183" width="96" height="47" rx="6"/><text class="c"><tspan x="0" y="194.8">length::large &lt;= 0.9</tspan><tspan x="0" y="205.1">info gain = 0.2026</tspan><tspan x="0" y="215.4">samples = 652</tspan><tspan x="0" y="225.7">class = 8</tspan></text></g>
<g id="r3c2-leafT"><rect class="k6" x="-78" y="265" width="74" height="129.6" rx="6"/><text class="c"><tspan x="-41" y="276.8">samples = 318</tspan><tspan x="-41" y="287.1">0: 65</tspan><tspan x="-41" y="297.4">2: 13</tspan><tspan x="-41" y="307.7">3: 22</tspan><tspan x="-41" y="318">4: 40</tspan><tspan x="-41" y="328.3">5: 22</tspan><tspan x="-41" y="338.6">6: 73</tspan><tspan x="-41" y="348.9">7: 3</tspan><tspan x="-41" y="359.2">8: 25</tspan><tspan x="-41" y="369.5">9: 55</tspan><tspan x="-41" y="390.1">class = 6</tspan></text></g>
<g id="r3c2-leafF"><rect class="k8" x="7" y="265" width="74" height="129.6" rx="6"/><text class="c"><tspan x="44" y="276.8">samples = 334</tspan><tspan x="44" y="287.1">0: 44</tspan><tspan x="44" y="297.4">2: 34</tspan><tspan x="44" y="307.7">3: 16</tspan><tspan x="44" y="318">4: 3</tspan><tspan x="44" y="328.3">5: 17</tspan><tspan x="44" y="338.6">6: 56</tspan><tspan x="44" y="348.9">7: 1</tspan><tspan x="44" y="359.2">8: 150</tspan><tspan x="44" y="369.5">9: 13</tspan><tspan x="44" y="390.1">class = 8</tspan></text></g>
</g>
<g id="tree-r3c3" transform="translate(339,1114) scale(0.65)">
<g id="r3c3-n0"><rect class="n" x="-39" y="0" width="78" height="26" rx="6"/><text class="c"><tspan x="0" y="11.8">samples = 30000</tspan><tspan x="0" y="22.1">width</tspan></text></g>
<g id="r3c3-n1"><rect class="n" x="-39" y="61" width="78" height="26" rx="6"/><text class="c"><tspan x="0" y="72.8">samples = 10017</tspan><tspan x="0" y="83.1">length</tspan></text></g>
<g id="r3c3-n2"><rect class="n" x="-39" y="122" width="78" height="26" rx="6"/><text class="c"><tspan x="0" y="133.8">samples = 3033</tspan><tspan x="0" y="144.1">height</tspan></text></g>
<g id="r3c3-split"><rect class="d" x="-48" y="183" width="96" height="47" rx="6"/><text class="c"><tspan x="0" y="194.8">length::large &lt;= 0.9</tspan><tspan x="0" y="205.1">info gain = 0.1717</tspan><tspan x="0" y="215.4">samples = 1131</tspan><tspan x="0" y="225.7">class = 8</tspan></text></g>
<g id="r3c3-leafT"><rect class="k0" x="-76" y="270.2" width="74" height="119.3" rx="6"/><text class="c"><tspan x="-39" y="282">samples = 450</tspan><tspan x="-39" y="292.3">0: 112</tspan><tspan x="-39" y="302.6">2: 38</tspan><tspan x="-39" y="312.9">3: 32</tspan><tspan x="-39" y="323.2">4: 4</tspan><tspan x="-39" y="333.5">5: 29</tspan><tspan x="-39" y="343.8">6: 95</tspan><tspan x="-39" y="354.1">8: 39</tspan><tspan x="-39" y="364.4">9: 101</tspan><tspan x="-39" y="385">class = 0</tspan></text></g>
<g id="r3c3-leafF"><rect class="k8" x="6" y="265" width="74" height="129.6" rx="6"/><text class="c"><tspan x="43" y="276.8">samples = 681</tspan><tspan x="43" y="287.1">0: 95</tspan><tspan x="43" y="297.4">2: 67</tspan><tspan x="43" y="307.7">3: 35</tspan><tspan x="43" y="318">4: 2</tspan><tspan x="43" y="328.3">5: 19</tspan><tspan x="43" y="338.6">6: 100</tspan><tspan x="43" y="348.9">7: 1</tspan><tspan x="43" y="359.2">8: 331</tspan><tspan x="43" y="369.5">9: 31</tspan><tspan x="43" y="390.1">class = 8</tspan></text></g>
</g>
<g id="tree-r3c4" transform="translate(483,999.5)">
<g id="r3c4-n0"><rect class="n" x="-39" y="0" width="78" height="26" rx="6"/><text class="c"><tspan x="0" y="11.8">samples = 30000</tspan><tspan x="0" y="22.1">width</tspan></text></g>
<g id="r3c4-n1"><rect class="n" x="-39" y="61" width="78" height="26" rx="6"/><text class="c"><tspan x="0" y="72.8">samples = 10017</tspan><tspan x="0" y="83.1">length</tspan></text></g>
<g id="r3c4-n2"><rect class="n" x="-39" y="122" width="78" height="26" rx="6"/><text class="c"><tspan x="0" y="133.8">samples = 3033</tspan><tspan x="0" y="144.1">height</tspan></text></g>
<g id="r3c4-n3"><rect class="n" x="-39" y="183" width="78" height="26" rx="6"/><text class="c"><tspan x="0" y="194.8">samples = 1250</tspan><tspan x="0" y="205.1">area</tspan></text></g>
<g id="r3c4-leaf"><rect class="k3" x="-38" y="244" width="76" height="119.3" rx="6"/><text class="c"><tspan x="0" y="255.8">samples = 181</tspan><tspan x="0" y="266.1">0: 23</tspan><tspan x="0" y="276.4">2: 23</tspan><tspan x="0" y="286.7">3: 45</tspan><tspan x="0" y="297">5: 28</tspan><tspan x="0" y="307.3">6: 21</tspan><tspan x="0" y="317.6">7: 2</tspan><tspan x="0" y="327.9">8: 22</tspan><tspan x="0" y="338.2">9: 17</tspan><tspan x="0" y="358.8">class = 3</tspan></text></g>
</g>
<g id="tree-r3c5" transform="translate(627,948.8)">
<g id="r3c5-n0"><rect class="n" x="-39" y="0" width="78" height="26" rx="6"/><text class="c"><tspan x="0" y="11.8">samples = 30000</tspan><tspan x="0" y="22.1">width</tspan></text></g>
<g id="r3c5-n1"><rect class="n" x="-39" y="61" width="78" height="26" rx="6"/><text class="c"><tspan x="0" y="72.8">samples = 10017</tspan><tspan x="0" y="83.1">length</tspan></text></g>
<g id="r3c5-n2"><rect class="n" x="-39" y="122" width="78" height="26" rx="6"/><text class="c"><tspan x="0" y="133.8">samples = 3033</tspan><tspan x="0" y="144.1">height</tspan></text></g>
<g id="r3c5-n3"><rect class="n" x="-39" y="183" width="78" height="26" rx="6"/><text class="c"><tspan x="0" y="194.8">samples = 1250</tspan><tspan x="0" y="205.1">area</tspan></text></g>
<g id="r3c5-n4"><rect class="n" x="-39" y="244" width="78" height="26" rx="6"/><text class="c"><tspan x="0" y="255.8">samples = 589</tspan><tspan x="0" y="266.1">slant</tspan></text></g>
<g id="r3c5-leaf"><rect class="k3" x="-38" y="305" width="76" height="109" rx="6"/><text class="c"><tspan x="0" y="316.8">samples = 202</tspan><tspan x="0" y="327.1">0: 6</tspan><tspan x="0" y="337.4">2: 17</tspan><tspan x="0" y="347.7">3: 62</tspan><tspan x="0" y="358">5: 31</tspan><tspan x="0" y="368.3">6: 18</tspan><tspan x="0" y="378.6">8: 57</tspan><tspan x="0" y="388.9">9: 11</tspan><tspan x="0" y="409.5">class = 3</tspan></text></g>
</g>
<g id="tree-r3c6" transform="translate(771,948.8)">
<g id="r3c6-n0"><rect class="n" x="-39" y="0" width="78" height="26" rx="6"/><text class="c"><tspan x="0" y="11.8">samples = 30000</tspan><tspan x="0" y="22.1">width</tspan></text></g>
<g id="r3c6-n1"><rect class="n" x="-39" y="61" width="78" height="26" rx="6"/><text class="c"><tspan x="0" y="72.8">samples = 10017</tspan><tspan x="0" y="83.1">length</tspan></text></g>
<g id="r3c6-n2"><rect class="n" x="-39" y="122" width="78" height="26" rx="6"/><text class="c"><tspan x="0" y="133.8">samples = 3033</tspan><tspan x="0" y="144.1">height</tspan></text></g>
<g id="r3c6-n3"><rect class="n" x="-39" y="183" width="78" height="26" rx="6"/><text class="c"><tspan x="0" y="194.8">samples = 1250</tspan><tspan x="0" y="205.1">area</tspan></text></g>
<g id="r3c6-n4"><rect class="n" x="-39" y="244" width="78" height="26" rx="6"/><text class="c"><tspan x="0" y="255.8">samples = 589</tspan><tspan x="0" y="266.1">slant</tspan></text></g>
<g id="r3c6-leaf"><rect class="k3" x="-38" y="305" width="76" height="109" rx="6"/><text class="c"><tspan x="0" y="316.8">samples = 223</tspan><tspan x="0" y="327.1">0: 34</tspan><tspan x="0" y="337.4">2: 21</tspan><tspan x="0" y="347.7">3: 55</tspan><tspan x="0" y="358">5: 28</tspan><tspan x="0" y="368.3">6: 27</tspan><tspan x="0" y="378.6">8: 48</tspan><tspan x="0" y="388.9">9: 10</tspan><tspan x="0" y="409.5">class = 3</tspan></text></g>
</g>
<g id="tree-r3c7" transform="translate(915,948.8)">
<g id="r3c7-n0"><rect class="n" x="-39" y="0" width="78" height="26" rx="6"/><text class="c"><tspan x="0" y="11.8">samples = 30000</tspan><tspan x="0" y="22.1">width</tspan></text></g>
<g id="r3c7-n1"><rect class="n" x="-39" y="61" width="78" height="26" rx="6"/><text class="c"><tspan x="0" y="72.8">samples = 10017</tspan><tspan x="0" y="83.1">length</tspan></text></g>
<g id="r3c7-n2"><rect class="n" x="-39" y="122" width="78" height="26" rx="6"/><text class="c"><tspan x="0" y="133.8">samples = 3033</tspan><tspan x="0" y="144.1">height</tspan></text></g>
<g id="r3c7-n3"><rect class="n" x="-39" y="183" width="78" height="26" rx="6"/><text class="c"><tspan x="0" y="194.8">samples = 1250</tspan><tspan x="0" y="205.1">area</tspan></text></g>
<g id="r3c7-n4"><rect class="n" x="-39" y="244" width="78" height="26" rx="6"/><text class="c"><tspan x="0" y="255.8">samples = 589</tspan><tspan x="0" y="266.1">slant</tspan></text></g>
<g id="r3c7-leaf"><rect class="k8" x="-38" y="305" width="76" height="109" rx="6"/><text class="c"><tspan x="0" y="316.8">samples = 164</tspan><tspan x="0" y="327.1">0: 23</tspan><tspan x="0" y="337.4">2: 18</tspan><tspan x="0" y="347.7">3: 38</tspan><tspan x="0" y="358">5: 10</tspan><tspan x="0" y="368.3">6: 16</tspan><tspan x="0" y="378.6">8: 48</tspan><tspan x="0" y="388.9">9: 11</tspan><tspan x="0" y="409.5">class = 8</tspan></text></g>
</g>
</svg>
